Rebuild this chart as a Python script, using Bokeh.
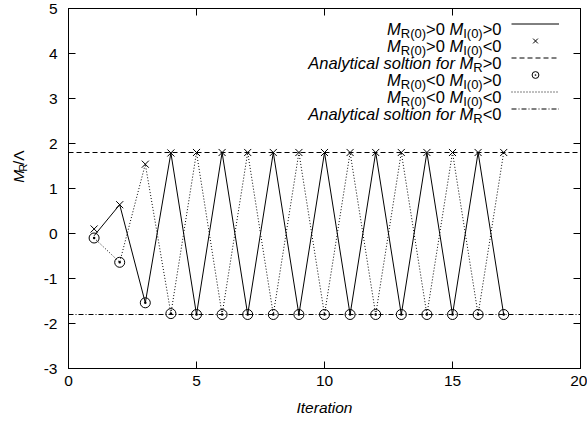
import math
from bokeh.plotting import figure
from bokeh.layouts import row
from bokeh.models import (Range1d, LinearAxis, FixedTicker, Legend, LegendItem,
                          ColumnDataSource, PrintfTickFormatter)
from bokeh.core.properties import value
from bokeh.embed import file_html
from bokeh.resources import INLINE

# ---------------- data ----------------
iterations = list(range(1, 18))
# M_R(0)>0, M_I(0)>0  (solid line)
mr_pos_mi_pos = [-0.05, 0.64, -1.54, 1.79, -1.80, 1.80, -1.80, 1.80, -1.80,
                 1.80, -1.80, 1.80, -1.80, 1.80, -1.80, 1.80, -1.80]
# M_R(0)>0, M_I(0)<0  (crosses)
mr_pos_mi_neg = [0.10, 0.64, 1.54, 1.79, 1.80, 1.80, 1.80, 1.80, 1.80,
                 1.80, 1.80, 1.80, 1.80, 1.80, 1.80, 1.80, 1.80]
# M_R(0)<0, M_I(0)>0  (circles)
mr_neg_mi_pos = [-0.10, -0.64, -1.54, -1.78, -1.80, -1.80, -1.80, -1.80, -1.80,
                 -1.80, -1.80, -1.80, -1.80, -1.80, -1.80, -1.80, -1.80]
# M_R(0)<0, M_I(0)<0  (dotted line)
mr_neg_mi_neg = [-0.10, -0.64, 1.54, -1.78, 1.80, -1.80, 1.80, -1.80, 1.80,
                 -1.80, 1.80, -1.80, 1.80, -1.80, 1.80, -1.80, 1.80]
analytic_pos = 1.80
analytic_neg = -1.80
x_limits = [0, 20]
y_limits = [-3, 5]
x_ticks = [0, 5, 10, 15, 20]
y_ticks = [-3, -2, -1, 0, 1, 2, 3, 4, 5]

# ---------------- layout constants ----------------
W, H = 587, 425
LW = 40                      # width of the strip holding the y-axis title
FL, FR, FT, FB = 68, 580, 8, 368   # frame edges in page pixels
FONT = "Liberation Sans"
TICK = 15.5
MAIN = 16.5
SUB = 13.0


def dx(px):
    return x_limits[0] + (px - FL) * (x_limits[1] - x_limits[0]) / (FR - FL)


def dy(py):
    return y_limits[1] - (py - FT) * (y_limits[1] - y_limits[0]) / (FB - FT)


p = figure(width=W - LW, height=H, output_backend="svg", toolbar_location=None,
           x_range=Range1d(*x_limits), y_range=Range1d(*y_limits),
           min_border_left=FL - LW, min_border_right=W - FR,
           min_border_top=FT, min_border_bottom=H - FB)
p.grid.visible = False
p.outline_line_color = "black"
p.outline_line_width = 1
p.background_fill_color = "white"
p.border_fill_color = "white"


def style_axis(ax, ticks, labels=True, standoff=8):
    ax.ticker = FixedTicker(ticks=ticks)
    ax.formatter = PrintfTickFormatter(format="%d")
    ax.major_tick_in = 7
    ax.major_tick_out = 0
    ax.minor_tick_line_color = None
    ax.axis_line_color = "black"
    ax.major_tick_line_color = "black"
    if labels:
        ax.major_label_text_font = FONT
        ax.major_label_text_font_size = "%gpx" % TICK
        ax.major_label_text_color = "black"
        ax.major_label_standoff = standoff
    else:
        ax.major_label_text_font_size = "1px"
        ax.major_label_text_color = None
        ax.major_label_standoff = 0


style_axis(p.xaxis[0], x_ticks, True, 7)
style_axis(p.yaxis[0], y_ticks, True, 11)
p.xaxis[0].axis_label = "Iteration"
p.xaxis[0].axis_label_text_font = FONT
p.xaxis[0].axis_label_text_font_style = "italic"
p.xaxis[0].axis_label_text_font_size = "%gpx" % TICK
p.xaxis[0].axis_label_text_color = "black"
p.xaxis[0].axis_label_standoff = 10

ax_r = LinearAxis()
style_axis(ax_r, y_ticks, False)
p.add_layout(ax_r, "right")
ax_t = LinearAxis()
style_axis(ax_t, x_ticks, False)
p.add_layout(ax_t, "above")

# ---------------- series ----------------
r_pp = p.line(iterations, mr_pos_mi_pos, line_color="black", line_width=1)
r_pm = p.scatter(iterations, mr_pos_mi_neg, marker="x", size=10,
                 line_color="black", line_width=1)
r_ap = p.line(x_limits, [analytic_pos, analytic_pos], line_color="black",
              line_width=1, line_dash="5 3")
r_mp = p.scatter(iterations, mr_neg_mi_pos, marker="circle_dot", size=10,
                 line_color="black", fill_color=None, line_width=1)
r_mm = p.line(iterations, mr_neg_mi_neg, line_color="black", line_width=1,
              line_dash="1 2")
r_an = p.line(x_limits, [analytic_neg, analytic_neg], line_color="black",
              line_width=1, line_dash="5 2 1 2")

# ---------------- legend (gnuplot style: text left, sample right) ----------------
ROW_H = 17
ROW0 = 23
legend = Legend(items=[LegendItem(label=value(" "), renderers=[r])
                       for r in (r_pp, r_pm, r_ap, r_mp, r_mm, r_an)],
                location=(511 - FL, FB - (ROW0 - ROW_H / 2 + 6 * ROW_H)),
                padding=0, margin=0, spacing=0, glyph_width=48,
                glyph_height=ROW_H, label_height=ROW_H, label_width=0,
                label_standoff=0, label_text_font_size="1px",
                label_text_color=None,
                border_line_alpha=0, background_fill_alpha=0)
p.add_layout(legend)

AW = {"M": 833, "R": 722, "I": 278, "(": 333, ")": 333, "0": 556, ">": 584,
      "<": 584, " ": 278, "A": 667, "n": 556, "a": 556, "l": 222, "y": 500,
      "t": 278, "i": 222, "c": 500, "s": 500, "o": 556, "f": 278, "r": 333,
      "/": 278, "\u039b": 667}


def tw(text, size):
    return sum(AW.get(c, 556) for c in text) * size / 1000.0


def row_segments(s1, s2):
    return [("M", "italic", "main"), ("R(0)", "normal", "sub"),
            (s1 + "0 ", "normal", "main"), ("M", "italic", "main"),
            ("I(0)", "normal", "sub"), (s2 + "0", "normal", "main")]


def analytic_segments(s):
    return [("Analytical soltion for ", "italic", "main"), ("M", "italic", "main"),
            ("R", "normal", "sub"), (s + "0", "normal", "main")]


rows = [row_segments(">", ">"), row_segments(">", "<"), analytic_segments(">"),
        row_segments("<", ">"), row_segments("<", "<"), analytic_segments("<")]

TEXT_RIGHT = 501
groups = {}
for i, segs in enumerate(rows):
    base = ROW0 + i * ROW_H + 5
    total = sum(tw(t, MAIN if sz == "main" else SUB) for t, st, sz in segs)
    xpos = TEXT_RIGHT - total
    for t, st, sz in segs:
        fs = MAIN if sz == "main" else SUB
        yb = base + (5 if sz == "sub" else 0)
        g = groups.setdefault((st, sz), {"x": [], "y": [], "t": []})
        g["x"].append(dx(xpos))
        g["y"].append(dy(yb))
        g["t"].append(t)
        xpos += tw(t, fs)

for (st, sz), g in groups.items():
    src = ColumnDataSource(dict(x=g["x"], y=g["y"], t=g["t"]))
    p.text(x="x", y="y", text="t", source=src, text_font=value(FONT),
           text_font_size=value("%gpx" % (MAIN if sz == "main" else SUB)),
           text_font_style=st, text_color="black", text_align="left",
           text_baseline="alphabetic")

# ---------------- y axis title  M_R / Lambda in a narrow strip ----------------
left = figure(width=LW, height=H, output_backend="svg", toolbar_location=None,
              x_range=Range1d(0, LW), y_range=Range1d(0, H),
              x_axis_type=None, y_axis_type=None,
              min_border=0, min_border_left=0, min_border_right=0,
              min_border_top=0, min_border_bottom=0)
left.grid.visible = False
left.outline_line_color = None
left.background_fill_color = "white"
left.border_fill_color = "white"

ylab = [("M", "italic", TICK, 0), ("R", "normal", 11.0, 4), ("/\u039b", "normal", TICK, 0)]
total = sum(tw(t, fs) for t, st, fs, off in ylab)
ypos = (FT + FB) / 2 + total / 2
for t, st, fs, off in ylab:
    left.text(x=[18 + off], y=[H - ypos], text=[t], angle=math.pi / 2,
              text_font=value(FONT), text_font_style=st,
              text_font_size=value("%gpx" % fs), text_color="black",
              text_align="left", text_baseline="alphabetic")
    ypos -= tw(t, fs)

layout = row(left, p, spacing=0)
open("out.html", "w").write(file_html(layout, INLINE))
